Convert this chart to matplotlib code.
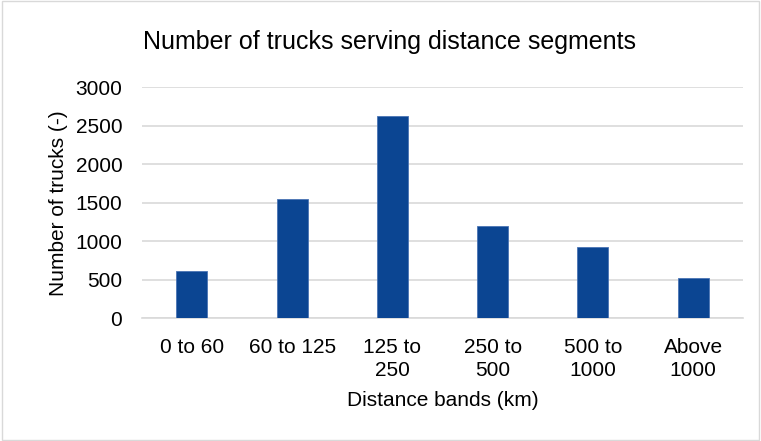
import matplotlib.pyplot as plt
import numpy as np

plt.rcParams["font.family"] = ["Liberation Sans", "DejaVu Sans"]

categories = ["0 to 60", "60 to 125", "125 to\n250", "250 to\n500", "500 to\n1000", "Above\n1000"]
trucks = [618, 1550, 2623, 1199, 926, 527]

fig = plt.figure(figsize=(7.61, 4.41), dpi=100)
ax = fig.add_axes([0.1862, 0.2782, 0.7905, 0.5238])

x = np.arange(len(categories))
ax.bar(x, trucks, width=0.31, color="#0B4592", edgecolor="#4A74B4", linewidth=0.6, zorder=3)

ax.set_xlim(-0.5, len(categories) - 0.5)
ax.set_ylim(0, 3000)
ax.set_yticks(np.arange(0, 3001, 500))
ax.yaxis.grid(True, color="#D9D9D9", linewidth=1.2, zorder=0)
ax.set_xticks(x)
ax.set_xticklabels(categories, fontsize=15, linespacing=1.25)
ax.tick_params(axis="y", labelsize=15, length=0, pad=14)
ax.tick_params(axis="x", length=0, pad=14)

for s in ["top", "right", "left"]:
    ax.spines[s].set_visible(False)
ax.spines["bottom"].set_color("#D9D9D9")
ax.spines["bottom"].set_linewidth(1.2)

ax.set_ylabel("Number of trucks (-)", fontsize=15, labelpad=5)
ax.set_xlabel("Distance bands (km)", fontsize=15, labelpad=8)
fig.text(0.512, 0.905, "Number of trucks serving distance segments", fontsize=18,
         ha="center", va="center")

# chart border
fig.patches.append(plt.Rectangle((0.002, 0.002), 0.996, 0.996, transform=fig.transFigure,
                                 fill=False, edgecolor="#D9D9D9", linewidth=1))

fig.savefig("out.png", dpi=100)
